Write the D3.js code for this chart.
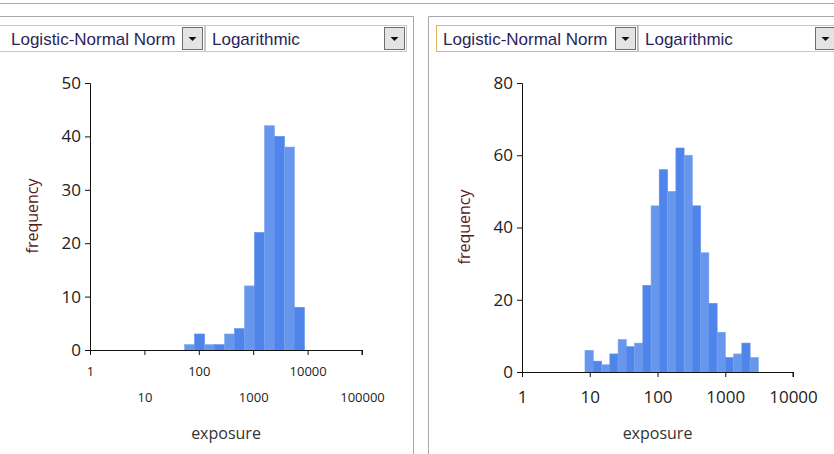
<!DOCTYPE html>
<html>
<head>
<meta charset="utf-8">
<script src="https://cdn.jsdelivr.net/npm/d3@7"></script>
<style>
  body { margin: 0; background: #fff; }
  svg text { font-family: "Open Sans", sans-serif; }
</style>
</head>
<body>
<div id="chart"></div>
<script>
// DATA: bin edges (exposure) and counts
const leftEdges = [55, 84, 128, 196, 299, 455, 695, 1059, 1615, 2464, 3758, 5731, 8743];
const leftCounts = [1, 3, 1, 1, 3, 4, 12, 22, 42, 40, 38, 8];
const leftXTicks = [1, 10, 100, 1000, 10000, 100000];
const leftYTicks = [0, 10, 20, 30, 40, 50];

const rightEdges = [8.5, 11.3, 15.0, 19.8, 26.2, 34.7, 45.9, 60.8, 80.4, 106, 141, 187, 247, 327, 433, 573, 759, 1004, 1328, 1758, 2328, 3083];
const rightCounts = [6, 3, 2, 5, 9, 7, 8, 24, 46, 56, 50, 62, 60, 46, 33, 19, 11, 4, 5, 8, 4];
const rightXTicks = [1, 10, 100, 1000, 10000];
const rightYTicks = [0, 20, 40, 60, 80];

const comboLabels = ["Logistic-Normal Norm", "Logarithmic"];

const W = 834, H = 454;
const svg = d3.select("#chart").append("svg")
    .attr("width", W)
    .attr("height", H);

// frame lines
svg.append("line").attr("x1", 0).attr("x2", W).attr("y1", 3.5).attr("y2", 3.5)
    .attr("stroke", "#a8a8a8");
svg.append("path").attr("d", "M0,16.5H413.5V454").attr("fill", "none").attr("stroke", "#a8a8a8");
svg.append("path").attr("d", "M428.5,454V16.5H834").attr("fill", "none").attr("stroke", "#a8a8a8");

// combo boxes
function combo(x0, x1, label, focused, textX) {
    const g = svg.append("g");
    g.append("rect").attr("x", x0 + 0.5).attr("y", 25.5)
        .attr("width", x1 - x0 - 1).attr("height", 26)
        .attr("fill", "#fff")
        .attr("stroke", focused ? "#e3b35e" : "#c8c8c8");
    g.append("rect").attr("x", x1 - 22.5).attr("y", 27.5)
        .attr("width", 20).attr("height", 22)
        .attr("fill", "#e4e4e4").attr("stroke", "#6e6e6e");
    const cx = x1 - 12.5;
    g.append("path").attr("d", `M${cx - 4},37 L${cx + 4},37 L${cx},41 Z`).attr("fill", "#111");
    g.append("text").attr("x", textX).attr("y", 45)
        .style("font-family", "'Liberation Sans', Arial, sans-serif")
        .style("font-size", "17px")
        .attr("fill", "#2a1f58")
        .text(label);
}
combo(-4, 205, comboLabels[0], false, 11);
combo(205, 407, comboLabels[1], false, 212);
combo(436, 638, comboLabels[0], true, 443);
combo(638, 838, comboLabels[1], false, 645);

function histogram(opts) {
    const x = d3.scaleLog().domain(opts.xDomain).range(opts.xRange);
    const y = d3.scaleLinear().domain(opts.yDomain).range(opts.yRange);
    const g = svg.append("g");

    const bins = opts.counts.map((c, i) => ({ x0: opts.edges[i], x1: opts.edges[i + 1], c, i }));
    g.selectAll("rect.bar")
        .data(bins)
        .enter()
        .append("rect")
        .attr("class", "bar")
        .attr("x", d => x(d.x0))
        .attr("width", d => x(d.x1) - x(d.x0))
        .attr("y", d => y(d.c))
        .attr("height", d => y(0) - y(d.c))
        .attr("fill", d => d.i % 2 === 0 ? "#6797ec" : "#4f84ea")
        .attr("stroke", d => d.i % 2 === 0 ? "#7aa5f0" : "#5a8cec")
        .attr("stroke-width", 0.6);

    // y axis
    const yAxis = g.append("g")
        .attr("transform", `translate(${opts.xRange[0]},0)`)
        .call(d3.axisLeft(y).tickValues(opts.yTicks).tickSize(5).tickPadding(4));
    yAxis.select(".domain").attr("stroke", "#111");
    yAxis.selectAll(".tick line").attr("stroke", "#111");
    yAxis.selectAll("text").style("font-size", "17px").attr("fill", "#222");

    // x axis
    const xAxis = g.append("g")
        .attr("transform", `translate(0,${opts.yRange[0]})`)
        .call(d3.axisBottom(x).tickValues(opts.xTicks).tickFormat(d3.format("d")).tickSize(5));
    xAxis.select(".domain").attr("stroke", "#111").attr("d", `M${opts.xRange[0]},0.5H${opts.xRange[1]}V5`);
    xAxis.selectAll(".tick line").attr("stroke", "#111");
    xAxis.selectAll("text")
        .style("font-size", opts.xFont)
        .attr("fill", "#222")
        .attr("y", (d, i) => opts.stagger && i % 2 === 1 ? opts.xLabelY + 26 : opts.xLabelY)
        .attr("dy", "0");

    // axis titles
    svg.append("text")
        .attr("x", (opts.xRange[0] + opts.xRange[1]) / 2)
        .attr("y", 439)
        .attr("text-anchor", "middle")
        .style("font-size", "16px")
        .attr("fill", "#333")
        .text("exposure");

    svg.append("text")
        .attr("transform", `translate(${opts.yLabelX},${opts.yLabelY}) rotate(-90)`)
        .attr("text-anchor", "middle")
        .style("font-size", "16px")
        .attr("fill", "#5a1a1a")
        .text("frequency");
}

histogram({
    edges: leftEdges, counts: leftCounts,
    xDomain: [1, 100000], xRange: [90, 362],
    yDomain: [0, 50], yRange: [350, 83],
    xTicks: leftXTicks, yTicks: leftYTicks,
    xFont: "13px", xLabelY: 26, stagger: true,
    yLabelX: 38, yLabelY: 216
});

histogram({
    edges: rightEdges, counts: rightCounts,
    xDomain: [1, 10000], xRange: [522, 793],
    yDomain: [0, 80], yRange: [372, 83],
    xTicks: rightXTicks, yTicks: rightYTicks,
    xFont: "17px", xLabelY: 31, stagger: false,
    yLabelX: 470, yLabelY: 227
});
</script>
</body>
</html>
